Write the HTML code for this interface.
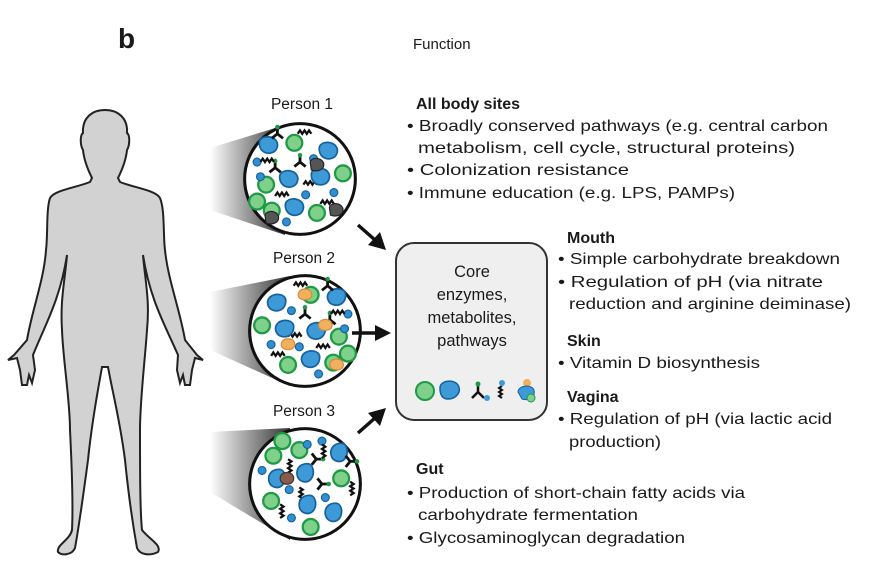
<!DOCTYPE html>
<html><head><meta charset="utf-8"><style>
html,body{margin:0;padding:0;background:#fff}
svg{display:block}
text{font-family:"Liberation Sans",Arial,sans-serif;fill:#1a1a1a}
</style></head><body>
<svg width="880" height="572" viewBox="0 0 880 572" xmlns="http://www.w3.org/2000/svg">
<defs>
<linearGradient id="sh" x1="0" x2="1" y1="0" y2="0">
<stop offset="0" stop-color="#fff"/><stop offset="1" stop-color="#333"/></linearGradient>
<g id="gc"><circle r="7" fill="#7fd08a" stroke="#1e9a45" stroke-width="2"/></g>
<g id="bb"><path d="M-8,-2 C-8,-8 2,-9 6,-5 C10,-1 8,6 2,7 C-4,8 -8,4 -8,-2Z" fill="#3d9ad6" stroke="#15609e" stroke-width="1.5"/></g>
<g id="bd"><circle r="3.5" fill="#2f8fd0" stroke="#15609e" stroke-width="1"/></g>
<g id="sq"><path d="M-7,0 l2,-3 l2,3 l2,-3 l2,3 l2,-3 l2,3" fill="none" stroke="#111" stroke-width="2"/></g>
<g id="yy"><path d="M0,0 L0,-6 M0,0 L-5,4 M0,0 L5,4" stroke="#111" stroke-width="2.5"/><circle cx="0" cy="-6" r="2" fill="#1e9a45"/></g>
<g id="gr"><path d="M-6,-3 C-4,-8 4,-7 6,-2 C7,4 0,6 -5,4Z" fill="#555" stroke="#222"/></g>
<g id="or"><path d="M-6,0 C-6,-7 6,-7 6,0 C6,6 -6,6 -6,0Z" fill="#f0b060" stroke="#d58a30"/></g>
<g id="mix">
<use href="#bb" x="-28" y="-30"/><use href="#gc" x="-5" y="-32"/><use href="#bb" x="25" y="-25"/>
<use href="#sq" x="5" y="-40"/><use href="#yy" x="-20" y="-40"/><use href="#bd" x="-38" y="-15"/>
<use href="#yy" x="-22" y="-10"/><use href="#sq" x="-28" y="-15"/>
<use href="#gc" x="-30" y="5"/><use href="#bb" x="-10" y="0"/><use href="#sq" x="10" y="5"/>
<use href="#bb" x="18" y="-2"/><use href="#gc" x="38" y="-5"/><use href="#bd" x="30" y="12"/>
<use href="#gc" x="-25" y="28"/><use href="#bb" x="-5" y="25"/><use href="#gc" x="15" y="30"/>
<use href="#sq" x="25" y="22"/><use href="#bd" x="-12" y="38"/><use href="#gc" x="-38" y="20"/>
<use href="#bd" x="5" y="14"/><use href="#yy" x="0" y="-15"/><use href="#bd" x="-35" y="-2"/>
<use href="#sq" x="-15" y="15"/><use href="#bd" x="12" y="-18"/>
</g>
</defs>

<text x="118" y="48" font-size="28" font-weight="bold">b</text>
<text x="413" y="49" font-size="15">Function</text>

<path d="M 92 178 C 88 170, 84 160, 83 150 C 80 145, 80 135, 83 133 C 82 118, 92 110, 105 110 C 118 110, 128 118, 127 133 C 130 135, 130 145, 127 150 C 126 160, 122 170, 118 178 L 120 182 C 135 188, 155 190, 160 198 C 165 210, 163 235, 165 250 C 168 280, 180 310, 185 340 L 197 355 L 203 360 L 195 358 L 192 370 L 190 385 L 185 385 L 183 375 L 180 383 L 177 370 L 178 355 C 165 325, 150 300, 143 255 C 145 280, 150 300, 147 330 C 145 360, 140 400, 140 430 C 140 470, 140 510, 142 530 C 150 540, 162 545, 158 552 C 150 556, 140 555, 137 548 C 132 520, 128 490, 125 460 C 120 420, 112 390, 108 367 L 102 367 C 98 390, 92 420, 88 460 C 84 490, 80 520, 75 548 C 72 555, 62 556, 58 552 C 56 545, 70 540, 72 530 C 73 510, 72 470, 70 430 C 70 400, 63 360, 62 330 C 60 300, 65 280, 67 255 C 60 300, 45 325, 33 355 L 35 370 L 32 383 L 29 375 L 27 385 L 22 385 L 20 370 L 17 358 L 8 360 L 14 355 L 27 340 C 32 310, 44 280, 46 250 C 48 235, 46 210, 50 198 C 55 190, 75 188, 90 182 Z" fill="#d2d2d2" stroke="#222" stroke-width="2"/>

<polygon points="210,148 285,125 285,235 210,210" fill="url(#sh)"/>
<polygon points="210,292 290,276 290,386 210,350" fill="url(#sh)"/>
<polygon points="210,432 290,428 290,540 210,492" fill="url(#sh)"/>

<g transform="translate(300,179) scale(1.13)"><circle r="49" fill="#fff" stroke="#111" stroke-width="2.7"/><use href="#mix"/>
<use href="#gr" x="15" y="-12"/><use href="#gr" x="-25" y="35"/><use href="#gr" x="32" y="28"/></g>
<g transform="translate(305,331) scale(1.13)"><circle r="49" fill="#fff" stroke="#111" stroke-width="2.7"/><use href="#mix" transform="scale(-1,1)"/>
<use href="#or" x="0" y="-32"/><use href="#or" x="18" y="-5"/><use href="#or" x="-15" y="12"/><use href="#or" x="28" y="30"/></g>
<g transform="translate(305,484) scale(1.13)"><circle r="49" fill="#fff" stroke="#111" stroke-width="2.7"/><use href="#mix" transform="rotate(90)"/>
<path d="M-22,-5 C-22,-12 -10,-12 -10,-5 C-10,2 -22,2 -22,-5Z" fill="#8a5a4a" stroke="#333"/></g>

<text x="302" y="109" font-size="15.5" text-anchor="middle">Person 1</text>
<text x="304" y="263" font-size="15.5" text-anchor="middle">Person 2</text>
<text x="304" y="416" font-size="15.5" text-anchor="middle">Person 3</text>

<g stroke="#111" stroke-width="3.5" fill="#111">
<line x1="358" y1="225" x2="375" y2="240"/><polygon points="386,250 368,245 380,232" stroke="none"/>
<line x1="352" y1="333" x2="376" y2="333"/><polygon points="391,333 375,325 375,341" stroke="none"/>
<line x1="358" y1="433" x2="375" y2="418"/><polygon points="386,408 380,426 368,413" stroke="none"/>
</g>

<rect x="396" y="243" width="151" height="177" rx="18" fill="#efefef" stroke="#333" stroke-width="2"/>
<g font-size="16.5" text-anchor="middle">
<text x="472" y="277">Core</text><text x="472" y="300">enzymes,</text>
<text x="472" y="323">metabolites,</text><text x="472" y="346">pathways</text></g>
<g transform="translate(8,2)">
<circle cx="417" cy="389" r="9" fill="#7fd08a" stroke="#1e9a45" stroke-width="2"/>
<path d="M432,386 C432,378 446,377 450,383 C454,390 448,397 440,397 C434,397 432,392 432,386Z" fill="#3d9ad6" stroke="#15609e" stroke-width="1.5"/>
<path d="M470,390 L470,383 M470,390 L464,396 M470,390 L476,396" stroke="#111" stroke-width="2.5"/><circle cx="470" cy="382" r="2.5" fill="#1e9a45"/><circle cx="479" cy="396" r="3" fill="#3d9ad6"/>
<path d="M494,384 l-3,2 l3,2 l-3,2 l3,2 l-3,2 l3,2" fill="none" stroke="#111" stroke-width="2"/><circle cx="494" cy="381" r="3" fill="#3d9ad6"/>
<circle cx="519" cy="381" r="4" fill="#f0b060"/>
<path d="M510,390 C510,383 524,382 526,388 C528,396 520,399 514,397Z" fill="#3d9ad6" stroke="#15609e"/>
<circle cx="523" cy="396" r="4" fill="#7fd08a" stroke="#1e9a45"/>
</g>

<g font-size="16">
<text x="416" y="109" font-weight="bold">All body sites</text>
<text x="407" y="131" textLength="421" lengthAdjust="spacingAndGlyphs">• Broadly conserved pathways (e.g. central carbon</text>
<text x="418" y="153" textLength="377" lengthAdjust="spacingAndGlyphs">metabolism, cell cycle, structural proteins)</text>
<text x="407" y="175" textLength="222" lengthAdjust="spacingAndGlyphs">• Colonization resistance</text>
<text x="407" y="198" textLength="328" lengthAdjust="spacingAndGlyphs">• Immune education (e.g. LPS, PAMPs)</text>
<text x="567" y="243" font-weight="bold">Mouth</text>
<text x="558" y="264" textLength="282" lengthAdjust="spacingAndGlyphs">• Simple carbohydrate breakdown</text>
<text x="558" y="287" textLength="265" lengthAdjust="spacingAndGlyphs">• Regulation of pH (via nitrate</text>
<text x="569" y="309" textLength="282" lengthAdjust="spacingAndGlyphs">reduction and arginine deiminase)</text>
<text x="567" y="346" font-weight="bold">Skin</text>
<text x="558" y="368" textLength="202" lengthAdjust="spacingAndGlyphs">• Vitamin D biosynthesis</text>
<text x="567" y="402" font-weight="bold">Vagina</text>
<text x="558" y="424" textLength="274" lengthAdjust="spacingAndGlyphs">• Regulation of pH (via lactic acid</text>
<text x="569" y="447" textLength="92" lengthAdjust="spacingAndGlyphs">production)</text>
<text x="416" y="474" font-weight="bold">Gut</text>
<text x="407" y="498" textLength="338" lengthAdjust="spacingAndGlyphs">• Production of short-chain fatty acids via</text>
<text x="418" y="520" textLength="220" lengthAdjust="spacingAndGlyphs">carbohydrate fermentation</text>
<text x="407" y="543" textLength="278" lengthAdjust="spacingAndGlyphs">• Glycosaminoglycan degradation</text>
</g>
</svg>
</body></html>
